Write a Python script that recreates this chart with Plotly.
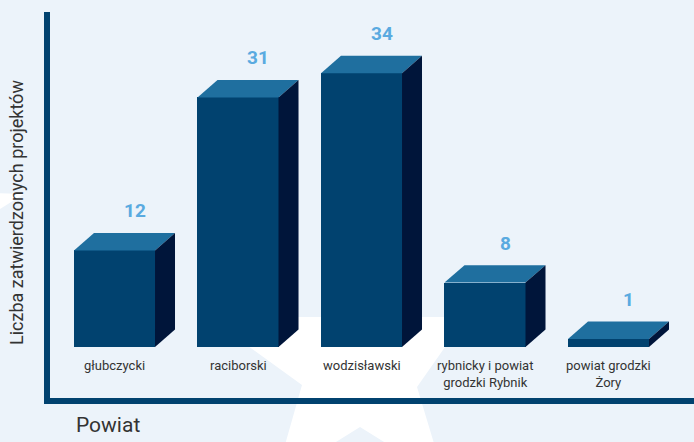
import plotly.graph_objects as go

# ---- data ----
categories = ["głubczycki", "raciborski", "wodzisławski",
              "rybnicky i powiat<br>grodzki Rybnik", "powiat grodzki<br>Żory"]
values = [12, 31, 34, 8, 1]
y_title = "Liczba zatwierdzonych projektów"
x_title = "Powiat"

# ---- style ----
FRONT = "#01426f"
TOP = "#1f6f9f"
SIDE = "#00153a"
AXIS = "#01426f"
BG = "#ecf3fa"
LABEL_BLUE = "#5aaae0"
TEXT = "#333333"

W = 0.656      # bar width (category units)
DX = 0.162     # depth offset x (category units)
DY = 2.17      # depth offset y (value units)

# plot area in pixels
L, R, T, B = 50, 694, 12, 398
WIDTH, HEIGHT = 694, 442

xs = list(range(len(categories)))

fig = go.Figure()

# front faces
fig.add_trace(go.Bar(x=xs, y=values, width=W, marker=dict(color=FRONT, line=dict(width=0)),
                     hoverinfo="skip", showlegend=False))

# top and side faces
for x, v in zip(xs, values):
    xl, xr = x - W / 2, x + W / 2
    fig.add_trace(go.Scatter(
        x=[xl, xr, xr + DX, xl + DX, xl], y=[v, v, v + DY, v + DY, v],
        mode="lines", fill="toself", fillcolor=TOP, line=dict(width=0, color=TOP),
        hoverinfo="skip", showlegend=False))
    fig.add_trace(go.Scatter(
        x=[xr, xr + DX, xr + DX, xr, xr], y=[v, v + DY, DY, 0, v],
        mode="lines", fill="toself", fillcolor=SIDE, line=dict(width=0, color=SIDE),
        hoverinfo="skip", showlegend=False))

annotations = []
for x, v, c in zip(xs, values, categories):
    annotations.append(dict(x=x + DX, y=v + DY, xref="x", yref="y", text=str(v),
                            showarrow=False, yanchor="middle", yshift=22,
                            font=dict(family="Roboto, Liberation Sans, sans-serif",
                                      size=19, color=LABEL_BLUE, weight="bold")))
    annotations.append(dict(x=x, y=0, xref="x", yref="y", text=c, showarrow=False,
                            yanchor="top", yshift=-9, align="center",
                            font=dict(family="Roboto, Liberation Sans, sans-serif",
                                      size=13, color=TEXT)))

def px2paper(X, Y):
    return (X - L) / (R - L), (B - Y) / (B - T)

annotations.append(dict(x=px2paper(16, 213)[0], y=px2paper(16, 213)[1], xref="paper", yref="paper",
                        text=y_title, textangle=-90, showarrow=False,
                        xanchor="center", yanchor="middle",
                        font=dict(family="Roboto, Liberation Sans, sans-serif", size=18, color=TEXT)))
annotations.append(dict(x=px2paper(74, 425)[0], y=px2paper(74, 425)[1], xref="paper", yref="paper",
                        text=x_title, showarrow=False, xanchor="left", yanchor="middle",
                        font=dict(family="Roboto, Liberation Sans, sans-serif", size=21, color=TEXT)))

# decorative white star in background
def path(points):
    pts = [px2paper(X, Y) for X, Y in points]
    return "M " + " L ".join(f"{a:.4f},{b:.4f}" for a, b in pts) + " Z"

star = [(362, 205), (398, 317), (466, 317), (417, 387), (445, 480), (360, 427),
        (275, 480), (302, 385), (208, 317), (326, 317)]
wedge = [(-5, 193), (24, 194), (-5, 212)]
shapes = [
    dict(type="path", xref="paper", yref="paper", path=path(star),
         fillcolor="white", line=dict(width=0), layer="below"),
    dict(type="path", xref="paper", yref="paper", path=path(wedge),
         fillcolor="white", line=dict(width=0), layer="below"),
]

# axis ranges so that the grid maps to the reference pixels
px_per_cat = 123.5
x0_px = 114.5
px_per_unit = 8.05
y0_px = 347
xr = [(L - x0_px) / px_per_cat, (R - x0_px) / px_per_cat]
yr = [(y0_px - B) / px_per_unit, (y0_px - T) / px_per_unit]

fig.update_layout(
    width=WIDTH, height=HEIGHT,
    margin=dict(l=L, r=WIDTH - R, t=T, b=HEIGHT - B, pad=0),
    paper_bgcolor=BG, plot_bgcolor="rgba(0,0,0,0)",
    xaxis=dict(range=xr, showgrid=False, zeroline=False, showticklabels=False, ticks="",
               showline=True, linecolor=AXIS, linewidth=6, fixedrange=True),
    yaxis=dict(range=yr, showgrid=False, zeroline=False, showticklabels=False, ticks="",
               showline=True, linecolor=AXIS, linewidth=6, fixedrange=True),
    annotations=annotations, shapes=shapes, showlegend=False, bargap=0,
)

fig.write_html("out.html", config={"displayModeBar": False},
               post_script="document.body.style.margin='0';document.body.style.overflow='hidden';"
                           "document.body.style.background='" + BG + "';")
